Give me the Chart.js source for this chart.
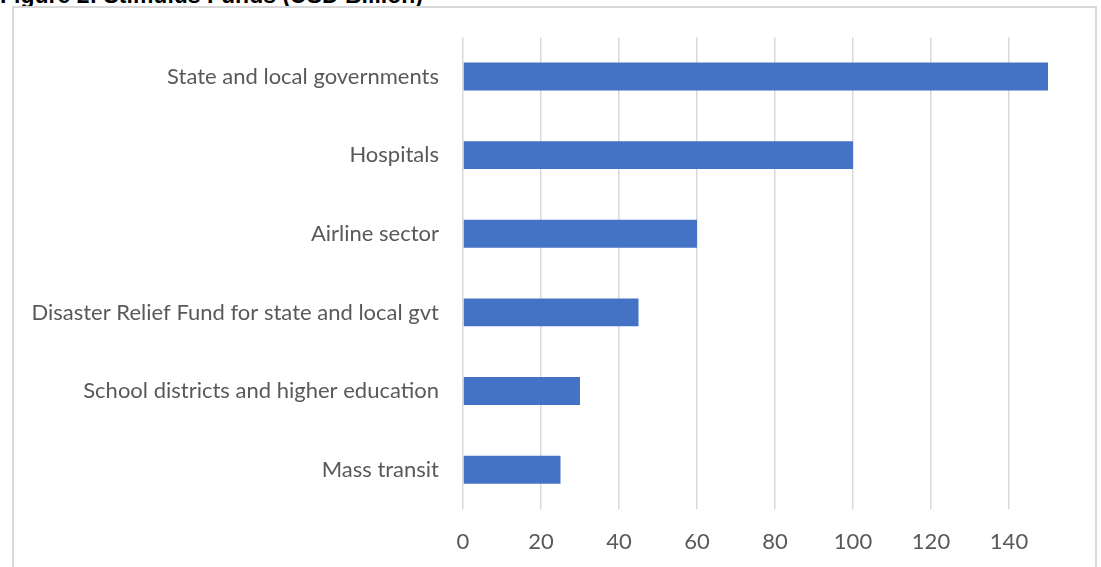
<!DOCTYPE html>
<html>
<head>
    <title>Stimulus Funds</title>
    <script src="https://cdn.jsdelivr.net/npm/chart.js"></script>
    <style>
        body { margin: 0; background: #fff; overflow: hidden; }
        #wrap { position: relative; width: 1101px; height: 567px; }
        #title { position: absolute; left: 0; top: -16px; font: bold 23px "Liberation Sans", Arial, sans-serif; line-height: 23px; color: #000; white-space: nowrap; }
        #frame { position: absolute; left: 12px; top: 6px; width: 1085px; height: 600px; border: 2px solid #d9d9d9; box-sizing: border-box; }
        #chart { position: absolute; left: 0; top: 0; }
    </style>
</head>
<body>
<div id="wrap">
    <div id="title">Figure 2: Stimulus Funds (USD Billion)</div>
    <div id="frame"></div>
    <canvas id="chart" width="1101" height="567"></canvas>
</div>
<script>
    const categories = [
        'State and local governments',
        'Hospitals',
        'Airline sector',
        'Disaster Relief Fund for state and local gvt',
        'School districts and higher education',
        'Mass transit'
    ];
    const fundsBillion = [150, 100, 60, 45, 30, 25];
    const tickValues = [0, 20, 40, 60, 80, 100, 120, 140];
    const axisMax = 150;

    const ctx = document.getElementById('chart').getContext('2d');
    new Chart(ctx, {
        type: 'bar',
        data: {
            labels: categories,
            datasets: [{
                data: fundsBillion,
                backgroundColor: '#4472C4',
                barPercentage: 0.71,
                categoryPercentage: 0.5
            }]
        },
        options: {
            indexAxis: 'y',
            responsive: false,
            animation: false,
            layout: { padding: { top: 35, right: 53, left: 0, bottom: 0 } },
            plugins: { legend: { display: false }, tooltip: { enabled: false } },
            scales: {
                x: {
                    min: 0,
                    max: axisMax,
                    afterBuildTicks: (s) => { s.ticks = tickValues.map(v => ({ value: v })); },
                    ticks: {
                        padding: 20,
                        color: '#595959',
                        font: { family: 'Lato', size: 22 }
                    },
                    grid: { color: '#d9d9d9', lineWidth: 1.5, drawTicks: false },
                    border: { display: false },
                    afterFit: (s) => { s.height = 58; }
                },
                y: {
                    ticks: {
                        padding: 24,
                        color: '#595959',
                        font: { family: 'Lato', size: 22 }
                    },
                    grid: { display: false, drawTicks: false },
                    border: { display: false },
                    afterFit: (s) => { s.width = 463; }
                }
            }
        }
    });
</script>
</body>
</html>
